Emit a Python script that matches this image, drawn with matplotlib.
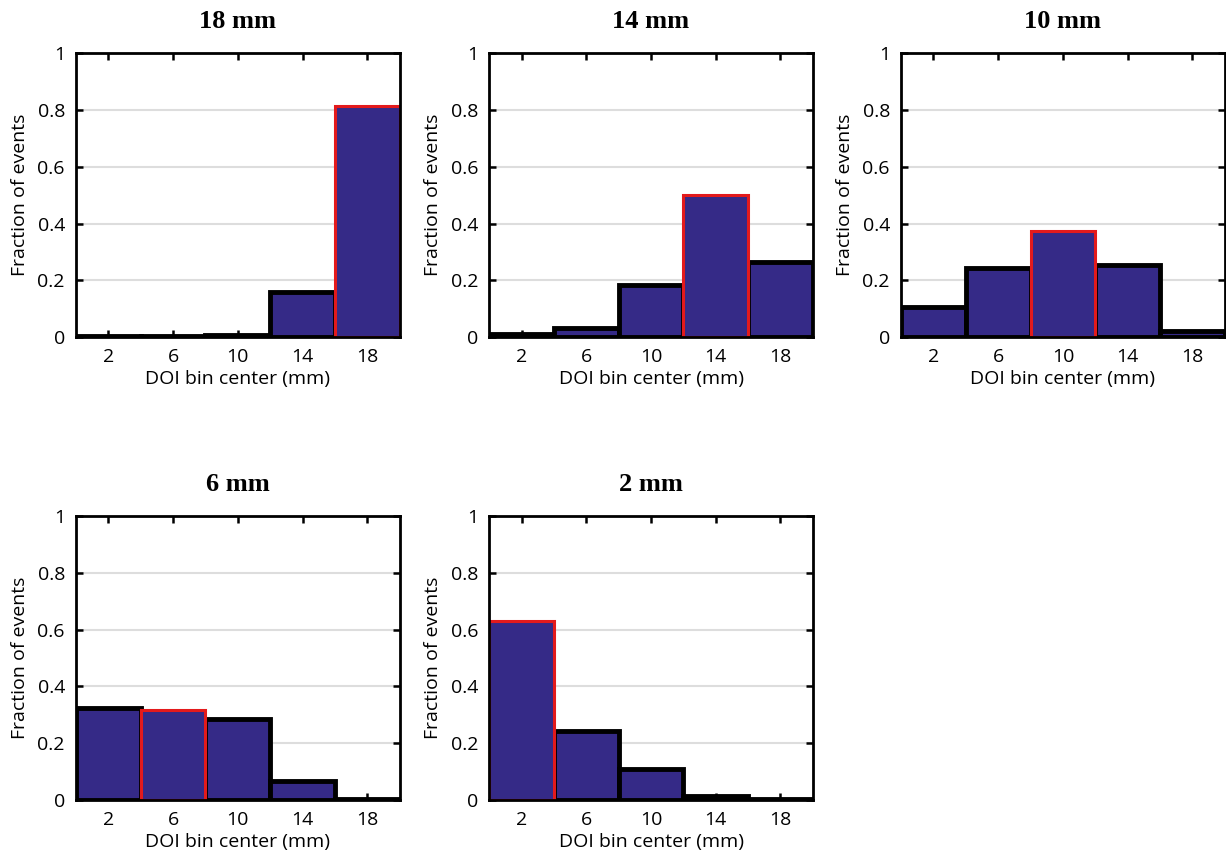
import matplotlib
matplotlib.use('Agg')
import matplotlib.pyplot as plt

# DOI bin centers (mm) and the fraction of events per bin for each true depth
bin_centers = [2, 6, 10, 14, 18]
frac_18mm = [0.003, 0.003, 0.008, 0.160, 0.815]
frac_14mm = [0.012, 0.033, 0.185, 0.500, 0.265]
frac_10mm = [0.105, 0.245, 0.375, 0.255, 0.020]
frac_6mm = [0.325, 0.318, 0.283, 0.068, 0.002]
frac_2mm = [0.630, 0.243, 0.110, 0.012, 0.003]

panel_titles = ['18 mm', '14 mm', '10 mm', '6 mm', '2 mm']
panel_data = [frac_18mm, frac_14mm, frac_10mm, frac_6mm, frac_2mm]
true_bin = [4, 3, 2, 1, 0]  # index of the bar outlined in red

y_ticks = [0, 0.2, 0.4, 0.6, 0.8, 1]
y_ticklabels = ['0', '0.2', '0.4', '0.6', '0.8', '1']

bar_color = '#352a87'

plt.rcParams['font.family'] = ['Open Sans', 'DejaVu Sans']

fig = plt.figure(figsize=(12.26, 8.6), dpi=100)

# axes boxes in figure fractions (left, bottom, width, height)
boxes = [
    (0.062, 0.608, 0.264, 0.330),
    (0.399, 0.608, 0.264, 0.330),
    (0.735, 0.608, 0.264, 0.330),
    (0.062, 0.070, 0.264, 0.330),
    (0.399, 0.070, 0.264, 0.330),
]

for box, title, vals, hi in zip(boxes, panel_titles, panel_data, true_bin):
    ax = fig.add_axes(box)
    for y in y_ticks[1:-1]:
        ax.axhline(y, color='#dddddd', lw=1.5, zorder=0)

    others = [i for i in range(len(vals)) if i != hi]
    ax.bar([bin_centers[i] for i in others], [vals[i] for i in others], width=4,
           color=bar_color, edgecolor='black', linewidth=3.5, zorder=2)
    ax.bar([bin_centers[hi]], [vals[hi]], width=4, color=bar_color,
           edgecolor='#e31a1c', linewidth=2.2, zorder=3)

    ax.set_xlim(0, 20)
    ax.set_ylim(0, 1)
    ax.set_xticks(bin_centers)
    ax.set_xticklabels([str(c) for c in bin_centers])
    ax.set_yticks(y_ticks)
    ax.set_yticklabels(y_ticklabels)
    ax.tick_params(direction='in', top=True, right=True, length=5, width=1.8,
                   labelsize=14, pad=8)
    for sp in ax.spines.values():
        sp.set_linewidth(2.0)
        sp.set_zorder(4)
    ax.set_xlabel('DOI bin center (mm)', fontsize=14, labelpad=3)
    ax.set_ylabel('Fraction of events', fontsize=14, labelpad=6)
    ax.set_title(title, fontsize=19, fontweight='bold',
                 family=['Liberation Serif', 'DejaVu Serif'], pad=18)

fig.savefig('out.png', dpi=100)
